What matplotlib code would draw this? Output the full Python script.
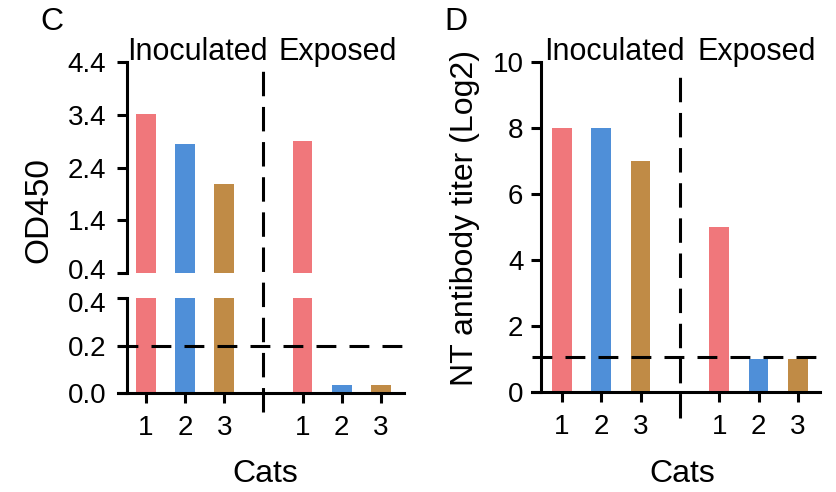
import numpy as np
import matplotlib.pyplot as plt
from matplotlib import transforms

plt.rcParams['font.family'] = ['Liberation Sans', 'DejaVu Sans']

# data
cat_labels = ['1', '2', '3', '1', '2', '3']
positions = [0, 1, 2, 4, 5, 6]
bar_colors = ['#F0777B', '#4F8FD8', '#C08B46', '#F0777B', '#4F8FD8', '#C08B46']
od450 = [3.42, 2.84, 2.09, 2.91, 0.035, 0.035]
od_cutoff = 0.2
nt_titer = [8, 8, 7, 5, 1, 1]
nt_cutoff = 1.07
upper_ticks = [0.4, 1.4, 2.4, 3.4, 4.4]
lower_ticks = [0.0, 0.2, 0.4]
nt_ticks = [0, 2, 4, 6, 8, 10]

W, H = 836, 492
fig = plt.figure(figsize=(W / 100, H / 100), dpi=100)

def fx(px):
    return px / W

def fy(py):
    return 1 - py / H

LW = 2.2
FS = 20
hdash = (6.5, 4.3)
vdash = (8, 3.5)

def style(ax, left_pos, ypad):
    for s in ['top', 'right']:
        ax.spines[s].set_visible(False)
    ax.spines['left'].set_linewidth(LW)
    ax.spines['bottom'].set_linewidth(LW)
    ax.spines['left'].set_position(('data', left_pos))
    ax.tick_params(width=LW, length=7, labelsize=FS)
    ax.tick_params(axis='y', pad=ypad)
    ax.tick_params(axis='x', pad=9)

def nudge(label, dy_px):
    off = transforms.ScaledTranslation(0, dy_px / 100, fig.dpi_scale_trans)
    label.set_transform(label.get_transform() + off)

# ---- panel C (broken axis)
xl_c = (-0.71, 6.59)
ax_up = fig.add_axes([fx(118), fy(273), fx(404) - fx(118), fy(62) - fy(273)])
ax_lo = fig.add_axes([fx(118), fy(393), fx(404) - fx(118), fy(298) - fy(393)])
for ax in (ax_up, ax_lo):
    ax.bar(positions, od450, width=0.5, color=bar_colors)
    ax.set_xlim(*xl_c)
    style(ax, -0.48, 8)
ax_up.set_ylim(0.4, 4.4)
ax_up.set_yticks(upper_ticks)
ax_up.set_yticklabels(['%.1f' % v for v in upper_ticks])
ax_up.spines['bottom'].set_visible(False)
ax_up.set_xticks([])
ax_lo.set_ylim(0, 0.4)
ax_lo.set_yticks(lower_ticks)
ax_lo.set_yticklabels(['%.1f' % v for v in lower_ticks])
ax_lo.set_xticks(positions)
ax_lo.set_xticklabels(cat_labels)
# keep the two 0.4 labels at the break apart
nudge(ax_up.get_yticklabels()[0], 4)
nudge(ax_lo.get_yticklabels()[-1], -4)
ax_lo.axhline(od_cutoff, color='black', lw=LW, dashes=hdash, xmax=1.015, clip_on=False)
tr = transforms.blended_transform_factory(ax_lo.transData, fig.transFigure)
ax_lo.plot([3, 3], [fy(412), fy(66)], transform=tr, color='black', lw=LW,
           dashes=vdash, clip_on=False)

# ---- panel D
ax_d = fig.add_axes([fx(532), fy(392), fx(820) - fx(532), fy(62) - fy(392)])
ax_d.bar(positions, nt_titer, width=0.5, color=bar_colors)
ax_d.set_xlim(-0.76, 6.56)
ax_d.set_ylim(0, 10)
style(ax_d, -0.52, 6)
ax_d.set_yticks(nt_ticks)
ax_d.set_xticks(positions)
ax_d.set_xticklabels(cat_labels)
ax_d.axhline(nt_cutoff, color='black', lw=LW, dashes=hdash, xmax=1.01, clip_on=False)
tr = transforms.blended_transform_factory(ax_d.transData, fig.transFigure)
ax_d.plot([3, 3], [fy(418), fy(74)], transform=tr, color='black', lw=LW,
          dashes=vdash, clip_on=False)

# ---- texts
fig.text(fx(52), fy(22), 'C', fontsize=23, ha='center', va='center')
fig.text(fx(456), fy(22), 'D', fontsize=23, ha='center', va='center')
fig.text(fx(197), fy(52), 'Inoculated', fontsize=22, ha='center', va='center')
fig.text(fx(338), fy(52), 'Exposed', fontsize=22, ha='center', va='center')
fig.text(fx(614), fy(52), 'Inoculated', fontsize=22, ha='center', va='center')
fig.text(fx(757), fy(52), 'Exposed', fontsize=22, ha='center', va='center')
fig.text(fx(39), fy(210), 'OD450', fontsize=24, rotation=90, ha='center', va='center')
fig.text(fx(465), fy(218), 'NT antibody titer (Log2)', fontsize=23, rotation=90,
         ha='center', va='center')
fig.text(fx(265), fy(474), 'Cats', fontsize=23, ha='center', va='center')
fig.text(fx(682), fy(474), 'Cats', fontsize=23, ha='center', va='center')

fig.savefig('out.png', dpi=100)
